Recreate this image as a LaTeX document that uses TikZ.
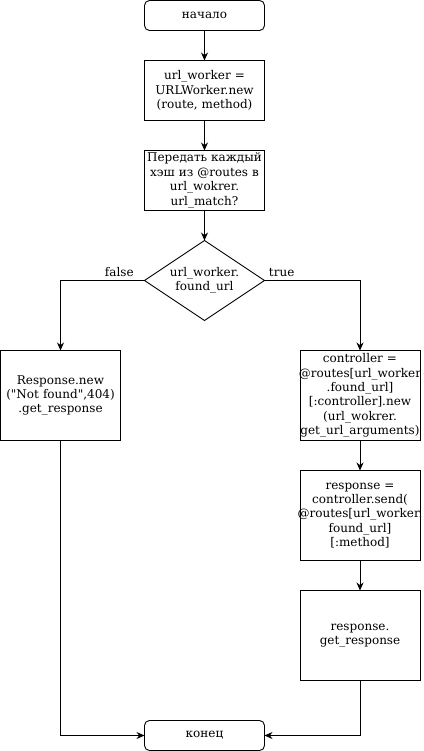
\documentclass[tikz,border=0pt]{standalone}
\usepackage{fontspec}
\setmainfont{DejaVu Serif}
\usetikzlibrary{shapes.geometric, arrows.meta, positioning}
% centre a line that is wider than the box
\newcommand{\wideline}[1]{\makebox[\linewidth]{#1}}

\begin{document}
\begin{tikzpicture}[
    x=1pt, y=1pt,
    font=\fontsize{12}{14.4}\selectfont,
    line width=0.9pt,
    node distance=30pt,
    term/.style={rectangle, rounded corners=5pt, draw, minimum width=120pt, minimum height=30pt, inner sep=0pt, outer sep=0pt},
    proc/.style={rectangle, draw, text width=118pt, align=center, inner sep=1pt, outer sep=0pt, minimum height=60pt},
    tall/.style={proc, minimum height=90pt},
    decision/.style={diamond, draw, aspect=1.5, minimum width=120pt, minimum height=80pt, inner sep=0pt, outer sep=0pt, align=center},
    arrow/.style={-{Stealth[length=8pt, width=7pt]}}
]
\useasboundingbox (0,0) rectangle (423,-751);
\node[term] (start) at (204.5,-15.5) {начало};
\node[proc, below=of start] (init) {url\_worker =\\URLWorker.new\\(route, method)};
\node[proc, below=of init] (pass) {Передать каждый\\хэш из @routes в\\url\_wokrer.\\url\_match?};
\node[decision, below=of pass] (found) {url\_worker.\\found\_url};
\node[tall, below=30pt of found, xshift=-144pt] (notfound) {Response.new\\(\textquotedbl Not found\textquotedbl,404)\\.get\_response};
\node[tall, below=30pt of found, xshift=155.5pt] (ctrl) {controller =\\\wideline{@routes[url\_worker}\\.found\_url]\\{[}:controller].new\\(url\_wokrer.\\\wideline{get\_url\_arguments)}};
\node[tall, below=of ctrl] (send) {response =\\controller.send(\\\wideline{@routes[url\_worker.}\\found\_url]\\{[}:method]};
\node[tall, below=of send] (getresp) {response.\\get\_response};
\node[term, below=280pt of notfound, xshift=144pt] (finish) {конец};
\draw[arrow] (start) -- (init);
\draw[arrow] (init) -- (pass);
\draw[arrow] (pass) -- (found);
\draw[arrow] (found.west) -| node[above, pos=0.15] {false} (notfound);
\draw[arrow] (found.east) -| node[above, pos=0.09] {true} (ctrl);
\draw[arrow] (ctrl) -- (send);
\draw[arrow] (send) -- (getresp);
\draw[arrow] (notfound) |- (finish);
\draw[arrow] (getresp) |- (finish);
\end{tikzpicture}
\end{document}
